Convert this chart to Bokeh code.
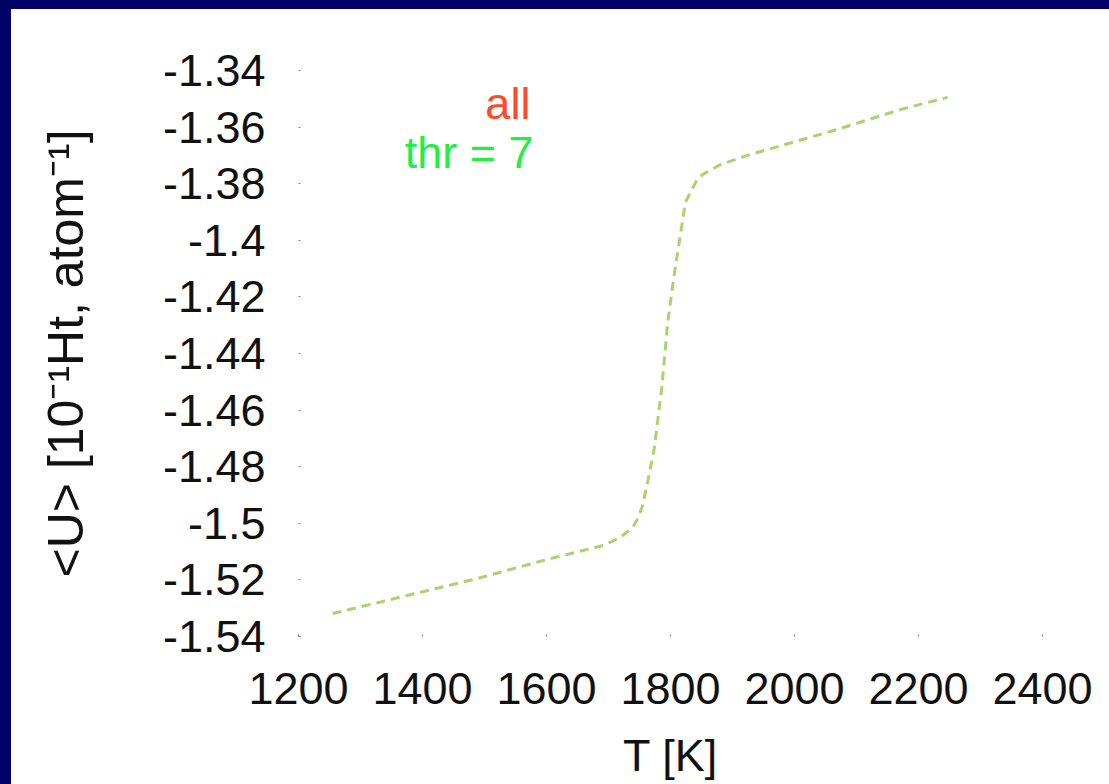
from bokeh.plotting import figure
from bokeh.models import Range1d, FixedTicker, Label, GlobalInlineStyleSheet
from bokeh.embed import file_html
from bokeh.resources import INLINE

# ---- data ----
T_values = [1255, 1368, 1489, 1595, 1692, 1719, 1739, 1748, 1755, 1763, 1774,
            1786, 1795, 1805, 1815, 1824, 1832, 1845, 1860, 1881, 1924, 1973,
            2074, 2171, 2247]
U_values = [-1.5319, -1.5259, -1.5195, -1.5131, -1.5078, -1.5050, -1.5015,
            -1.4980, -1.4937, -1.4856, -1.4732, -1.4520, -1.4301, -1.4135,
            -1.3994, -1.3866, -1.3831, -1.3778, -1.3757, -1.3732, -1.3700,
            -1.3669, -1.3605, -1.3538, -1.3495]

x_ticks = [1200, 1400, 1600, 1800, 2000, 2200, 2400]
y_ticks = [-1.54, -1.52, -1.50, -1.48, -1.46, -1.44, -1.42, -1.40, -1.38, -1.36, -1.34]
y_tick_labels = ["-1.54", "-1.52", "-1.5", "-1.48", "-1.46", "-1.44", "-1.42",
                 "-1.4", "-1.38", "-1.36", "-1.34"]

legend_texts = ["all", "thr = 7"]
x_label = "T [K]"
y_label = "<U> [10\u207b\u00b9Ht, atom\u207b\u00b9]"

FONT = "Liberation Sans"
FS = "45px"
TICK_COL = "#808080"

p = figure(width=1098, height=775, output_backend="svg", toolbar_location=None,
           x_range=Range1d(1200, 2400), y_range=Range1d(-1.54, -1.34),
           min_border_left=287, min_border_right=67, min_border_top=61,
           min_border_bottom=148)
p.stylesheets = [GlobalInlineStyleSheet(css="html { background: #000066; } "
                                            "body { background: #ffffff; margin: 9px 0 0 11px; overflow: hidden; }")]
p.outline_line_color = None
p.background_fill_color = "white"
p.border_fill_color = "white"
p.xgrid.visible = False
p.ygrid.visible = False

p.line(T_values, U_values, line_color="#a6d46e", line_width=3, line_dash="9 6")

def style_axis(ax):
    ax.axis_line_color = None
    ax.major_tick_in = 2
    ax.major_tick_out = 0
    ax.major_tick_line_color = TICK_COL
    ax.minor_tick_line_color = None
    ax.major_label_text_font = FONT
    ax.major_label_text_color = "#111111"
    ax.major_label_text_font_size = FS
    ax.axis_label_text_font = FONT
    ax.axis_label_text_font_style = "normal"
    ax.axis_label_text_color = "#111111"
    ax.axis_label_text_font_size = FS

xa = p.xaxis[0]
xa.ticker = FixedTicker(ticks=x_ticks)
style_axis(xa)
xa.major_label_standoff = 36
xa.axis_label = x_label
xa.axis_label_standoff = 23

ya = p.yaxis[0]
ya.ticker = FixedTicker(ticks=y_ticks)
style_axis(ya)
ya.major_label_overrides = {t: s for t, s in zip(y_ticks, y_tick_labels)}
ya.major_label_standoff = 33
ya.axis_label = y_label
ya.axis_label_text_font_size = "50px"
ya.axis_label_standoff = 66

p.add_layout(Label(x=1574, y=-1.3515, text=legend_texts[0], text_align="right",
                   text_baseline="alphabetic", text_color="#ff4a2a",
                   text_font=FONT, text_font_size=FS))
p.add_layout(Label(x=1579, y=-1.3688, text=legend_texts[1], text_align="right",
                   text_baseline="alphabetic", text_color="#22ee44",
                   text_font=FONT, text_font_size=FS))

open("out.html", "w").write(file_html(p, INLINE))
